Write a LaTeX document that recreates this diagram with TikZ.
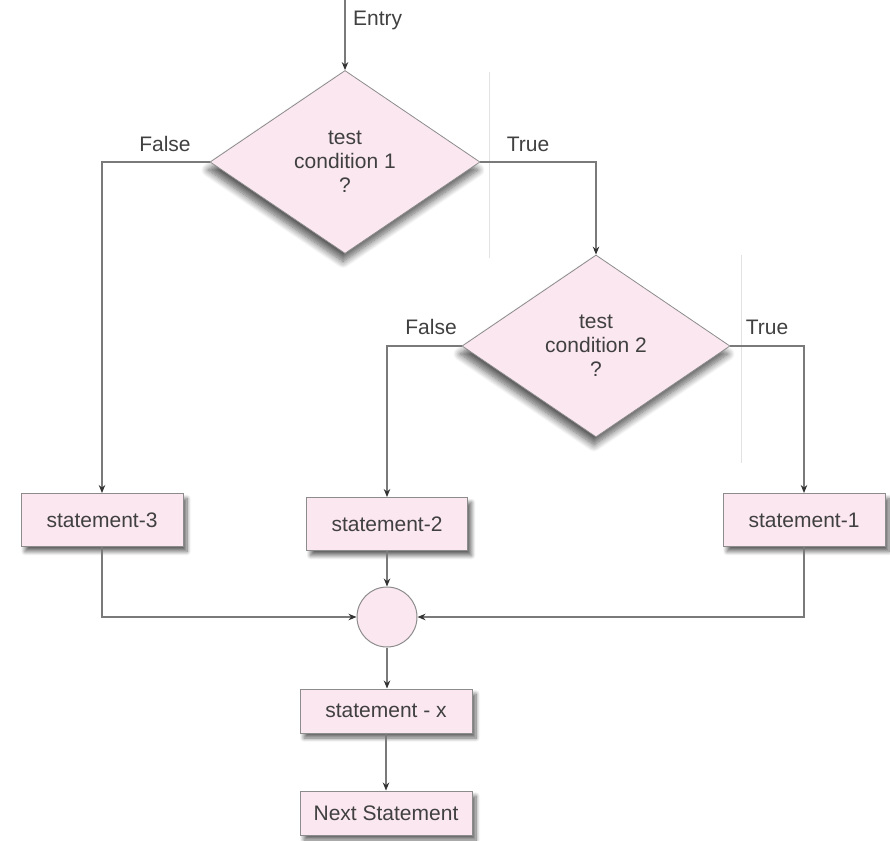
\documentclass[tikz,border=0pt]{standalone}
\usepackage{fontspec}
\setmainfont{Liberation Sans}
\usetikzlibrary{shapes.geometric,arrows.meta,shadows.blur}

\definecolor{boxfill}{HTML}{FBE7F0}
\definecolor{boxline}{HTML}{8C8C8C}
\definecolor{txt}{HTML}{404040}
\definecolor{wire}{HTML}{7A7A7A}
\definecolor{tip}{HTML}{333333}
\definecolor{faint}{HTML}{E2E2E2}

\tikzset{
  every node/.style={font=\fontsize{21}{24}\selectfont, text=txt},
  stmt/.style={rectangle, draw=boxline, line width=1pt, fill=boxfill,
    minimum height=53pt, inner sep=0pt,
    blur shadow={shadow xshift=4pt, shadow yshift=-5pt, shadow blur radius=4pt,
      shadow blur steps=8, shadow opacity=60}},
  decision/.style={diamond, draw=boxline, line width=0.8pt, fill=boxfill,
    inner sep=0pt, align=center,
    blur shadow={shadow xshift=-2pt, shadow yshift=-8pt, shadow blur radius=7pt,
      shadow blur steps=10, shadow opacity=65}},
  junction/.style={circle, draw=boxline, line width=1pt, fill=boxfill,
    minimum size=60pt, inner sep=0pt},
  flow/.style={draw=wire, line width=1.1pt, -{Stealth[length=8pt,width=6.5pt,color=tip]}},
  tag/.style={inner sep=0pt},
  rule/.style={draw=faint, line width=0.8pt},
}

\begin{document}
\begin{tikzpicture}[x=1pt, y=-1pt]
  \useasboundingbox (0,0) rectangle (890,840);

  % thin panel rules
  \draw[rule] (489,72) -- (489,258);
  \draw[rule] (741,255) -- (741,463);

  % decisions
  \node[decision, minimum width=270pt, minimum height=183pt] (d1) at (345,162)
    {test\\condition 1\\?};
  \node[decision, minimum width=268pt, minimum height=182pt] (d2) at (596,346)
    {test\\condition 2\\?};

  % statements
  \node[stmt, minimum width=162pt] (s3) at (102,520) {statement-3};
  \node[stmt, minimum width=161pt] (s2) at (387,524) {statement-2};
  \node[stmt, minimum width=162pt] (s1) at (804,520) {statement-1};

  % join point
  \node[junction] (j) at (387,617) {};

  \node[stmt, minimum width=172pt, minimum height=44pt] (sx) at (386,711) {statement - x};
  \node[stmt, minimum width=172pt, minimum height=44pt] (nx) at (386,813) {Next Statement};

  % entry
  \coordinate (top) at (345,0);
  \draw[flow] (top) -- (d1.north);
  \node[tag, anchor=west] (entry) at (353,20) {Entry};

  % branches of the first test
  \draw[flow] (d1.west) -| (s3.north);
  \draw[flow] (d1.east) -| (d2.north);
  \node[tag] (f1) at (165,144) {False};
  \node[tag] (t1) at (528,144) {True};

  % branches of the second test
  \draw[flow] (d2.west) -| (s2.north);
  \draw[flow] (d2.east) -| (s1.north);
  \node[tag] (f2) at (431,327) {False};
  \node[tag] (t2) at (767,327) {True};

  % merging
  \draw[flow] (s3.south) |- (j.west);
  \draw[flow] (s1.south) |- (j.east);
  \draw[flow] (s2.south) -- (j.north);
  \draw[flow] (j.south) -- (j.south |- sx.north);
  \draw[flow] (sx.south) -- (nx.north);
\end{tikzpicture}
\end{document}
